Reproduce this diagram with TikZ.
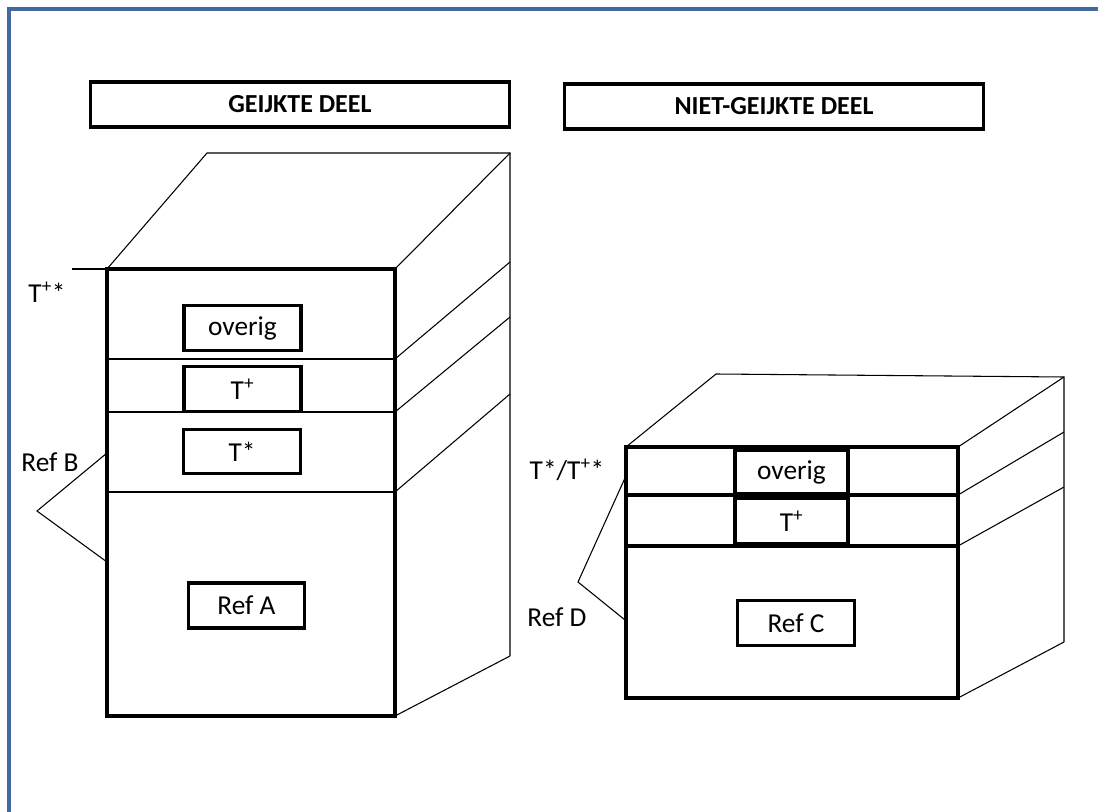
\documentclass[tikz,border=0pt]{standalone}
\usepackage{fontspec}
\setmainfont{Carlito}
\begin{document}
\begin{tikzpicture}[x=0.75pt,y=-0.75pt,
  frameline/.style={line width=2.8pt, draw={rgb,255:red,68;green,104;blue,160}},
  thickline/.style={line width=2.6pt},
  midline/.style={line width=1.3pt},
  thinline/.style={line width=0.8pt},
  lbl/.style={font=\fontsize{20.5}{24}\selectfont, inner sep=0pt},
  tagbox/.style={draw, line width=2.6pt, inner sep=0pt, font=\fontsize{20.5}{24}\selectfont},
  titlebox/.style={draw, line width=2.6pt, inner sep=0pt, minimum width=314pt, minimum height=34pt, font=\bfseries\fontsize{19.5}{23}\selectfont}
]
\useasboundingbox (0,0) rectangle (1098,812);
\fill[white] (0,0) rectangle (1098,812);
% frame
\coordinate (fTL) at (9,9);
\coordinate (fTR) at (1098,9);
\coordinate (fBL) at (9,812);
\draw[frameline] (fTR) -- (fTL) -- (fBL);

% titles
\node[titlebox] (t1) at (300,104.5) {GEIJKTE DEEL};
\node[titlebox] (t2) at (774,106.5) {NIET-GEIJKTE DEEL};

% ---------- left block ----------
\coordinate (aTL) at (107,269);
\coordinate (aBR) at (395,716);
\coordinate (aL1) at (107,359);  \coordinate (aR1) at (395,359);
\coordinate (aL2) at (107,412);  \coordinate (aR2) at (395,412);
\coordinate (aL3) at (107,492);  \coordinate (aR3) at (395,492);
\coordinate (aTR) at (395,269);
\coordinate (aBRc) at (395,716);
\coordinate (aBackL) at (207,153);
\coordinate (aBackR) at (510,153);
\coordinate (aB1) at (510,262);
\coordinate (aB2) at (510,317);
\coordinate (aB3) at (510,394);
\coordinate (aB4) at (510,656);
\draw[thinline] (aTL) -- (aBackL) -- (aBackR) -- (aB4);
\draw[thinline] (aTR) -- (aBackR);
\draw[thinline] (aR1) -- (aB1);
\draw[thinline] (aR2) -- (aB2);
\draw[thinline] (aR3) -- (aB3);
\draw[thinline] (aBRc) -- (aB4);
\draw[midline] (aL1) -- (aR1);
\draw[midline] (aL2) -- (aR2);
\draw[midline] (aL3) -- (aR3);
\draw[thickline] (aTL) rectangle (aBR);
% T+* tick
\coordinate (tickA) at (72,269);
\draw[thinline] (tickA) -- (aTL);
% Ref B bracket
\coordinate (rbTop) at (107,453);
\coordinate (rbTip) at (37,511);
\coordinate (rbBot) at (107,562);
\draw[thinline] (rbTop) -- (rbTip) -- (rbBot);

\node[tagbox, minimum width=88pt, minimum height=33.5pt] (aOv) at (242.5,328) {overig};
\node[tagbox, minimum width=88pt, minimum height=33.5pt] (aTp) at (242.5,389) {T\textsuperscript{+}};
\node[tagbox, minimum width=87.5pt, minimum height=33pt] (aTs) at (242,451.5) {T*};
\node[tagbox, minimum width=87pt, minimum height=34pt] (aRA) at (246.5,605.5) {Ref A};

\node[lbl] (lTpp) at (47,292) {T\textsuperscript{+}*};
\node[lbl] (lRB) at (50,462) {Ref B};

% ---------- right block ----------
\coordinate (bTL) at (626,447);
\coordinate (bBR) at (958,698);
\coordinate (bTR) at (958,447);
\coordinate (bL1) at (626,495);  \coordinate (bR1) at (958,495);
\coordinate (bL2) at (626,546);  \coordinate (bR2) at (958,546);
\coordinate (bBackL) at (716,374);
\coordinate (bBackR) at (1064,377);
\coordinate (bB1) at (1064,432);
\coordinate (bB2) at (1064,487);
\coordinate (bB3) at (1064,642);
\draw[thinline] (bTL) -- (bBackL) -- (bBackR) -- (bB3);
\draw[thinline] (bTR) -- (bBackR);
\draw[thinline] (bR1) -- (bB1);
\draw[thinline] (bR2) -- (bB2);
\draw[thinline] (bBR) -- (bB3);
\draw[thickline] (bL1) -- (bR1);
\draw[thickline] (bL2) -- (bR2);
\draw[thickline] (bTL) rectangle (bBR);
% Ref D bracket
\coordinate (rdTop) at (625,478);
\coordinate (rdTip) at (578,582);
\coordinate (rdBot) at (625,620);
\draw[thinline] (rdTop) -- (rdTip) -- (rdBot);

\node[tagbox, minimum width=85pt, minimum height=33pt] (bOv) at (791.5,472) {overig};
\node[tagbox, minimum width=85pt, minimum height=34pt] (bTp) at (791.5,521) {T\textsuperscript{+}};
\node[tagbox, minimum width=87.5pt, minimum height=33.5pt] (bRC) at (796,623) {Ref C};

\node[lbl] (lTs) at (567,470) {T*/T\textsuperscript{+}*};
\node[lbl] (lRD) at (557,617) {Ref D};
\end{tikzpicture}
\end{document}
